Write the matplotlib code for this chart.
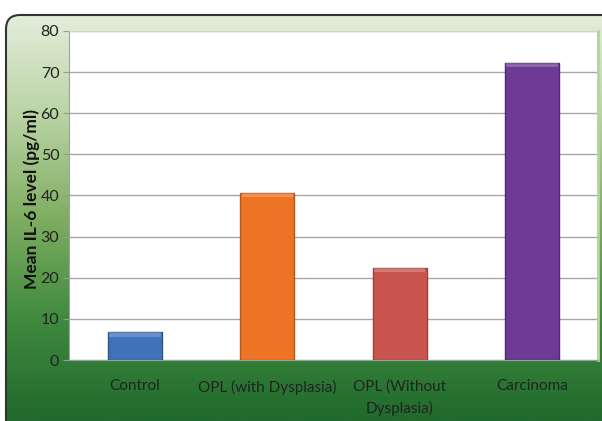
import numpy as np
import matplotlib.pyplot as plt
from matplotlib.patches import FancyBboxPatch
from matplotlib.colors import LinearSegmentedColormap

categories = ["Control", "OPL (with Dysplasia)", "OPL (Without\nDysplasia)", "Carcinoma"]
values = [6.7, 40.6, 22.4, 72.2]
bar_colors = ["#3f73b9", "#ec7424", "#c9554f", "#6e3a95"]
edge_colors = ["#2c5687", "#b9561a", "#98403b", "#4f296d"]
yticks = [0, 10, 20, 30, 40, 50, 60, 70, 80]

plt.rcParams['font.family'] = ['Lato', 'DejaVu Sans']

fig = plt.figure(figsize=(6.02, 4.21), dpi=100)

# green vertical gradient background inside a rounded frame
bg = fig.add_axes([0, 0, 1, 1], zorder=-10)
bg.set_xlim(0, 602)
bg.set_ylim(421, 0)
bg.axis("off")
cmap = LinearSegmentedColormap.from_list(
    "grn", ["#e3eedb", "#b9d3a3", "#7fae62", "#3f8a3e", "#1f6a2c"])
grad = np.linspace(0, 1, 256).reshape(-1, 1)
im = bg.imshow(grad, cmap=cmap, aspect="auto", extent=[5, 640, 421, 14], zorder=0)
frame = FancyBboxPatch((6, 15), 640, 440, boxstyle="round,pad=0,rounding_size=14",
                       fc="none", ec="#333333", lw=1.5, zorder=2)
bg.add_patch(frame)
im.set_clip_path(frame)

ax = fig.add_axes([69 / 602, 1 - 360 / 421, 529 / 602, 329 / 421])
ax.set_facecolor("white")
x = np.arange(len(categories))
ax.bar(x, values, width=0.41, color=bar_colors, edgecolor=edge_colors, linewidth=1, zorder=3)
# lighter top strip for bevel look
for xi, v in zip(x, values):
    ax.bar(xi, 1.0, bottom=v - 1.0, width=0.39, color="white", alpha=0.22, lw=0, zorder=4)

ax.set_xlim(-0.5, 3.5)
ax.set_ylim(0, 80)
ax.set_yticks(yticks)
ax.set_yticklabels([str(t) for t in yticks], fontsize=11.5, color="#222222")
ax.set_xticks(x)
ax.set_xticklabels(categories, fontsize=11, color="#222222", linespacing=1.6)
ax.tick_params(axis="x", length=0, pad=14)
ax.tick_params(axis="y", length=4, color="#999999", pad=3)
ax.yaxis.grid(True, color="#a6a6a6", lw=1, zorder=0)
ax.set_axisbelow(True)
for s in ["left", "bottom"]:
    ax.spines[s].set_color("#a0a0a0")
ax.spines["top"].set_color("#d0d0d0")
ax.spines["right"].set_color("#b6d39e")
ax.spines["right"].set_linewidth(2)

ax.set_ylabel("Mean IL-6 level (pg/ml)", fontsize=12.5, fontweight="bold",
              color="#111111")
ax.yaxis.set_label_coords(-0.055, 0.49)

fig.savefig("out.png", dpi=100)
